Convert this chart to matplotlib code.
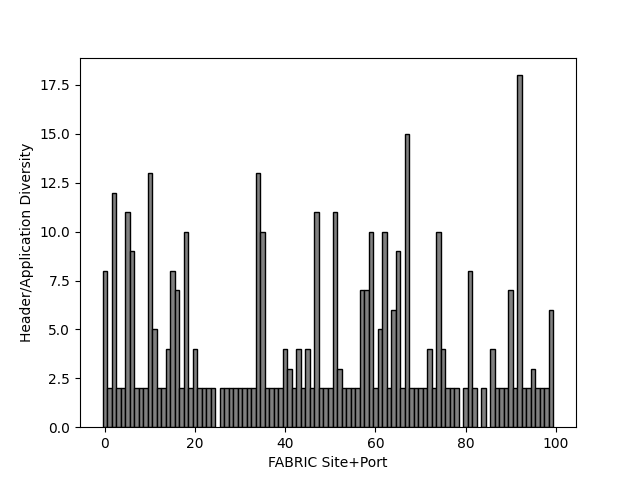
import matplotlib
matplotlib.use("Agg")
import matplotlib.pyplot as plt

sites = [i for i in range(100) if i not in (25, 79, 83, 85)]
diversity = [8, 2, 12, 2, 2, 11, 9, 2, 2, 2,
             13, 5, 2, 2, 4, 8, 7, 2, 10, 2,
             4, 2, 2, 2, 2,
             2, 2, 2, 2, 2, 2, 2, 2, 13, 10, 2, 2, 2, 2,
             4, 3, 2, 4, 2, 4, 2, 11, 2, 2,
             2, 11, 3, 2, 2, 2, 2, 7, 7, 10,
             2, 5, 10, 2, 6, 9, 2, 15, 2, 2,
             2, 2, 4, 2, 10, 4, 2, 2, 2,
             2, 8, 2,
             2,
             4, 2, 2, 2, 7, 2, 18, 2, 2, 3, 2, 2, 2, 6]

fig, ax = plt.subplots(figsize=(6.4, 4.8), dpi=100)
ax.bar(sites, diversity, width=1.0, color="gray", edgecolor="black", linewidth=1)
ax.set_xlabel("FABRIC Site+Port")
ax.set_ylabel("Header/Application Diversity")
fig.savefig("out.png")
